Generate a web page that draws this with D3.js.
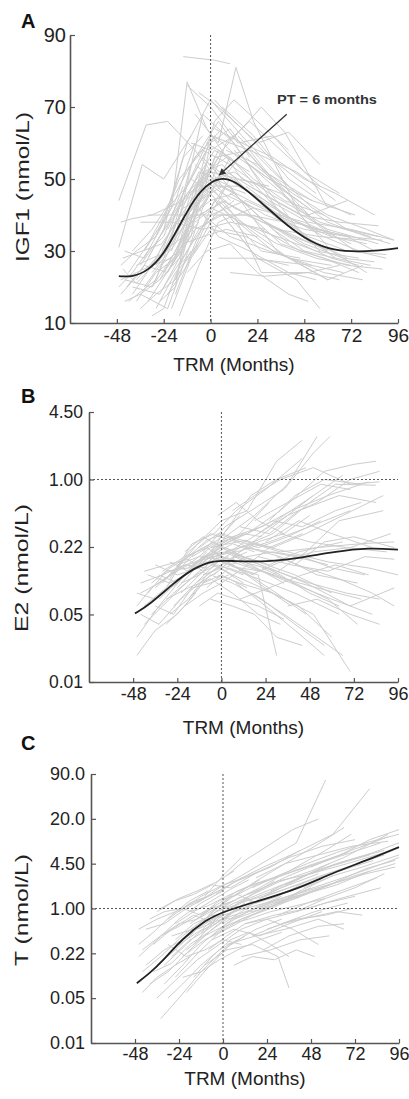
<!DOCTYPE html>
<html>
<head>
<meta charset="utf-8">
<script src="https://cdn.jsdelivr.net/npm/d3@7"></script>
<style>
body { margin: 0; background: #fff; }
svg { display: block; font-family: "Liberation Sans", Arial, sans-serif; }
</style>
</head>
<body>
<svg id="chart" width="409" height="1099"></svg>
<script>
// x axis, months relative to menarche
var monthTicks = [-48, -24, 0, 24, 48, 72, 96];
var monthDomain = [-72, 96];

// panel A : IGF1
var igfTicks = [10, 30, 50, 70, 90];
var igfMeanT = [-47, -40, -32, -24, -16, -8, 0, 6, 12, 24, 36, 48, 60, 72, 84, 96];
var igfMeanV = [23, 22.8, 24.5, 29, 37, 45, 49.3, 50.3, 49.6, 44.5, 38.5, 33.5, 30.5, 29.8, 30, 30.8];
var igfPeak = [6, 50];          // PT = 6 months
var igfArrowFrom = [39, 68];
var igfNote = [34, 70.8];
var igfLines = [
  [[-47,44],[-33,65],[-22,66],[-8,58],[6,48]],
  [[-47,31],[-35,54],[-24,50],[-10,62]],
  [[-46,38],[-40,39],[-30,40],[-14,44],[2,58],[20,52]],
  [[-46,18],[-36,24],[-24,36],[-12,60],[0,72],[16,62],[40,48]],
  [[-44,22],[-30,20],[-18,34],[-4,68],[12,60],[36,40]],
  [[-45,25],[-38,21],[-26,28],[-14,46],[0,62],[20,58],[52,36]],
  [[-42,16],[-28,22],[-16,40],[-6,52],[10,48],[34,30],[60,22]],
  [[-40,20],[-26,18],[-14,30],[-2,55],[14,45],[40,32]],
  [[-38,26],[-22,30],[-10,54],[4,66],[22,52],[48,34],[70,28]],
  [[-36,18],[-22,14],[-14,26],[-4,42],[10,56],[30,44],[56,30]],
  [[-34,30],[-20,42],[-12,77],[-2,64],[16,50],[36,46],[62,34]],
  [[-14,84],[2,83],[10,82]],
  [[-12,76],[0,70],[14,60],[32,62]],
  [[-8,68],[4,60],[13,81],[22,66],[46,40],[62,30]],
  [[-30,24],[-18,32],[-8,44],[6,58],[26,70],[38,63],[60,42]],
  [[-26,28],[-14,38],[-2,48],[12,42],[34,36],[56,34],[80,33]],
  [[-24,20],[-12,30],[0,40],[18,44],[42,38],[70,34],[88,33]],
  [[-22,24],[-10,36],[2,56],[20,58],[44,52],[64,44]],
  [[-20,14],[-10,28],[0,36],[18,34],[40,28],[62,26]],
  [[-18,18],[-8,32],[2,44],[14,38],[32,30],[58,24],[78,22]],
  [[-16,12],[-6,26],[4,38],[22,42],[48,38],[72,32]],
  [[-32,16],[-20,26],[-8,36],[6,40],[24,28],[40,26]],
  [[-28,34],[-16,50],[-4,58],[10,54],[30,46],[56,38],[82,34]],
  [[-10,60],[0,58],[12,62],[28,52],[52,44],[74,40]],
  [[-6,74],[4,70],[16,64],[30,56],[54,46]],
  [[2,72],[12,66],[24,60],[40,63],[56,54]],
  [[0,48],[12,40],[26,24],[50,24],[66,26]],
  [[4,44],[20,36],[40,28],[60,22],[78,26]],
  [[6,40],[24,28],[44,22],[56,14]],
  [[8,52],[26,46],[46,40],[66,38],[86,37]],
  [[10,46],[28,40],[48,36],[70,34],[84,30]],
  [[-4,40],[10,34],[30,30],[52,26],[68,24]],
  [[12,58],[28,50],[50,40],[70,44]],
  [[14,38],[34,34],[54,30],[76,28]],
  [[18,56],[36,48],[54,38],[74,30],[90,28]],
  [[-38,22],[-28,28],[-18,38],[-6,40],[8,44]],
  [[-43,20],[-34,26],[-22,24],[-12,36],[0,46]],
  [[-45,28],[-35,30],[-25,32],[-15,40]],
  [[-40,30],[-30,36],[-18,46],[-8,56],[6,64]],
  [[-36,14],[-28,18],[-18,22],[-10,30]],
  [[-30,12],[-24,14],[-16,26],[-6,32]],
  [[-26,16],[-18,20],[-10,44],[0,50],[10,44]],
  [[-20,30],[-10,46],[0,52],[14,50],[30,48]],
  [[-14,36],[-4,52],[6,54],[20,46],[38,40]],
  [[-12,40],[-2,46],[8,60],[20,66],[40,56],[56,48]],
  [[-8,46],[2,66],[12,72],[24,66],[40,58]],
  [[-4,56],[6,50],[18,58],[34,48],[50,42]],
  [[20,48],[40,42],[60,36],[86,32]],
  [[22,40],[42,34],[62,30],[80,24]],
  [[26,36],[46,30],[70,26],[88,25]],
  [[30,44],[50,38],[72,36],[94,33]],
  [[-46,22],[-38,24],[-30,26],[-20,28]],
  [[-44,16],[-36,18],[-26,22],[-16,32],[-6,38]],
  [[-34,20],[-26,26],[-16,30],[-6,44],[6,48]],
  [[-28,26],[-20,32],[-10,40],[0,44],[12,46]],
  [[-22,36],[-14,44],[-4,50],[6,46],[22,42]],
  [[-18,22],[-8,40],[2,48],[16,48],[32,40],[52,32]],
  [[-16,26],[-6,36],[4,40],[18,40],[36,36],[60,30]],
  [[-2,60],[10,56],[22,50],[38,44],[58,40]],
  [[0,54],[14,48],[28,44],[44,38],[62,34],[80,32]],
  [[-10,50],[2,62],[14,56],[30,50],[52,44]],
  [[16,44],[32,36],[48,30],[64,28]],
  [[-6,42],[4,34],[20,30],[40,24],[54,22]],
  [[-24,24],[-14,32],[-4,34],[8,36],[24,34]],
  [[-20,40],[-10,50],[0,46],[12,38],[26,30],[46,28]],
  [[32,62],[48,52],[66,46]],
  [[-8,38],[6,44],[20,40],[36,32],[58,28],[76,24]],
  [[-12,24],[-2,30],[10,32],[24,24],[40,18],[50,16]],
  [[-47,20],[-40,24],[-32,30],[-24,34],[-14,48]],
  [[-46,26],[-38,30],[-28,34],[-18,44],[-8,60]],
  [[-44,30],[-34,28],[-24,38],[-14,56],[-4,62]],
  [[-42,24],[-32,32],[-22,42],[-12,48],[-2,58]],
  [[-40,18],[-30,26],[-20,36],[-10,44],[0,52]],
  [[-38,16],[-28,24],[-18,28],[-8,48],[2,54]],
  [[-36,26],[-26,34],[-16,42],[-6,48],[4,56]],
  [[-34,24],[-24,30],[-14,34],[-4,46],[6,52]],
  [[-32,28],[-22,38],[-12,46],[-2,52],[8,56]],
  [[-30,20],[-20,28],[-10,38],[0,42],[10,50]],
  [[-28,14],[-18,24],[-8,30],[2,40],[12,44]],
  [[-26,22],[-16,28],[-6,46],[4,58],[14,54]],
  [[-24,30],[-14,42],[-4,44],[6,52],[16,48]],
  [[-22,18],[-12,26],[-2,38],[8,48],[18,46]],
  [[-20,26],[-10,34],[0,60],[10,64],[20,56]],
  [[-18,30],[-8,42],[2,50],[12,52],[22,48]],
  [[-32,40],[-16,40],[0,40],[20,40],[38,38]],
  [[-36,38],[-20,38],[-4,36],[10,38],[28,36]],
  [[4,28],[20,28],[36,27],[52,26]],
  [[10,24],[28,23],[50,24],[66,22]],
  [[2,64],[16,60],[32,56],[48,50],[64,46],[84,40]],
  [[6,70],[22,62],[40,50],[56,44],[72,40]],
  [[8,58],[24,54],[42,46],[60,40],[80,36],[94,33]],
  [[12,50],[30,42],[50,34],[70,30],[90,29]],
  [[14,62],[32,52],[52,42],[70,36],[86,34]],
  [[18,48],[38,40],[58,34],[76,30]],
  [[20,54],[40,46],[60,38],[80,34],[92,32]],
  [[24,44],[44,36],[64,28],[82,26]],
  [[28,38],[48,32],[68,28],[84,27]],
  [[-2,50],[12,46],[28,38],[46,32],[62,28],[76,26]],
  [[0,42],[16,38],[34,32],[54,28],[72,26]],
  [[-8,54],[6,48],[20,44],[36,40],[54,36],[72,34]]
];

// panel B : E2 (log axis)
var e2Ticks = [0.0111, 0.0498, 0.2231, 1, 4.4817];
var e2TickLabels = ["0.01", "0.05", "0.22", "1.00", "4.50"];
var e2MeanT = [-47, -39, -26, -15, -4, 6, 25, 43, 61, 80, 96];
var e2MeanV = [0.051, 0.062, 0.10, 0.14, 0.167, 0.163, 0.16, 0.175, 0.20, 0.22, 0.21];
var e2Lines = [
  [[-46,0.03],[-34,0.06],[-20,0.12],[-8,0.2]],
  [[-46,0.08],[-36,0.07],[-24,0.1],[-12,0.16],[0,0.22]],
  [[-44,0.1],[-32,0.12],[-20,0.15],[-8,0.14],[4,0.18]],
  [[-42,0.06],[-30,0.09],[-18,0.2],[-6,0.3],[8,0.25]],
  [[-40,0.12],[-28,0.1],[-16,0.13],[-4,0.22],[10,0.3],[26,0.6]],
  [[-38,0.05],[-26,0.08],[-14,0.12],[-2,0.15],[12,0.12]],
  [[-36,0.09],[-24,0.14],[-12,0.25],[0,0.4],[14,0.5],[30,1.5],[44,2.4]],
  [[-34,0.07],[-22,0.11],[-10,0.18],[2,0.2],[16,0.15],[34,0.1]],
  [[-32,0.13],[-20,0.18],[-8,0.22],[4,0.16],[20,0.1],[38,0.06]],
  [[-30,0.04],[-20,0.06],[-10,0.1],[0,0.12],[14,0.09]],
  [[-28,0.11],[-16,0.24],[-4,0.3],[8,0.5],[24,0.8],[44,1.6]],
  [[-26,0.06],[-14,0.1],[-2,0.14],[10,0.2],[28,0.35],[50,0.7]],
  [[-24,0.15],[-12,0.18],[0,0.17],[12,0.13],[30,0.08],[46,0.05]],
  [[-22,0.08],[-10,0.13],[2,0.28],[18,0.45],[36,0.9],[52,2.6]],
  [[-20,0.12],[-8,0.17],[4,0.2],[20,0.16],[40,0.12],[60,0.08]],
  [[-18,0.07],[-6,0.12],[6,0.1],[22,0.07],[40,0.04],[56,0.025]],
  [[-16,0.18],[-4,0.24],[8,0.2],[26,0.25],[48,0.35],[70,0.5]],
  [[-14,0.1],[-2,0.16],[10,0.22],[28,0.3],[48,0.6],[62,0.9],[84,0.88]],
  [[-12,0.14],[0,0.25],[14,0.3],[32,0.5],[56,1.2],[72,1.4],[84,1.5]],
  [[-10,0.2],[2,0.35],[16,0.5],[34,0.8],[50,1.8],[59,2.6]],
  [[-8,0.09],[4,0.14],[20,0.11],[40,0.08],[64,0.05]],
  [[-6,0.16],[6,0.12],[22,0.09],[42,0.06],[60,0.03]],
  [[-4,0.25],[8,0.18],[26,0.14],[46,0.1],[70,0.06],[94,0.09]],
  [[-2,0.12],[10,0.1],[28,0.08],[50,0.05],[70,0.014]],
  [[0,0.3],[14,0.25],[32,0.2],[52,0.22],[76,0.24],[94,0.25]],
  [[2,0.2],[18,0.24],[36,0.2],[58,0.16],[80,0.14],[96,0.12]],
  [[4,0.15],[20,0.12],[30,0.02]],
  [[6,0.28],[22,0.35],[38,0.5],[58,0.7],[80,0.95]],
  [[8,0.1],[24,0.06],[40,0.035],[56,0.02]],
  [[10,0.35],[26,0.3],[42,0.5],[64,0.7],[84,0.6]],
  [[12,0.16],[30,0.13],[48,0.1],[68,0.08],[86,0.07]],
  [[14,0.22],[32,0.18],[52,0.12],[74,0.1]],
  [[16,0.08],[34,0.05],[52,0.03],[66,0.02]],
  [[18,0.4],[36,0.6],[54,0.9],[70,0.8]],
  [[20,0.18],[38,0.15],[58,0.13],[78,0.18],[94,0.17]],
  [[24,0.25],[42,0.4],[60,0.3],[82,0.22]],
  [[-44,0.05],[-34,0.04],[-22,0.07],[-12,0.1],[-2,0.13]],
  [[-40,0.08],[-30,0.13],[-18,0.14],[-6,0.2],[6,0.28]],
  [[-36,0.15],[-24,0.12],[-12,0.14],[0,0.2]],
  [[-32,0.1],[-22,0.16],[-12,0.21],[-2,0.26],[10,0.45]],
  [[-28,0.05],[-18,0.07],[-8,0.12],[2,0.16],[14,0.2]],
  [[-24,0.09],[-14,0.14],[-4,0.19],[6,0.24],[18,0.2]],
  [[-20,0.06],[-10,0.08],[0,0.1],[12,0.14],[26,0.22],[44,0.3]],
  [[-16,0.13],[-6,0.2],[4,0.35],[16,0.7],[30,1.0],[46,1.3]],
  [[-12,0.22],[-2,0.3],[8,0.26],[20,0.22],[36,0.28],[54,0.4]],
  [[-8,0.17],[2,0.22],[12,0.18],[26,0.15],[42,0.2],[66,0.25]],
  [[-4,0.12],[6,0.17],[18,0.14],[34,0.11],[52,0.09],[76,0.07]],
  [[0,0.16],[10,0.14],[22,0.13],[38,0.1],[60,0.07],[82,0.05]],
  [[2,0.24],[14,0.3],[28,0.4],[44,0.35],[62,0.5],[76,0.6]],
  [[-30,0.07],[-18,0.09],[-6,0.11],[6,0.08],[20,0.05],[32,0.04]],
  [[-46,0.02],[-36,0.035],[-24,0.05],[-14,0.08]],
  [[-42,0.13],[-30,0.15],[-18,0.17],[-8,0.12]],
  [[28,0.12],[46,0.2],[64,0.4],[88,0.5]],
  [[32,0.3],[48,0.25],[68,0.22],[90,0.2]],
  [[36,0.06],[52,0.07],[70,0.05],[86,0.04]],
  [[40,0.15],[56,0.25],[72,0.28],[94,0.22]],
  [[6,0.5],[18,0.7],[32,1.0],[50,1.3],[70,0.9],[86,0.95]],
  [[-2,0.45],[8,0.6],[20,0.4],[34,0.3]],
  [[10,0.07],[26,0.09],[44,0.12],[62,0.15],[80,0.12]],
  [[-6,0.07],[6,0.06],[18,0.05],[30,0.03],[44,0.025]],
  [[-46,0.06],[-38,0.09],[-28,0.12],[-18,0.15],[-8,0.18]],
  [[-44,0.08],[-34,0.1],[-24,0.13],[-14,0.2],[-4,0.25]],
  [[-42,0.04],[-32,0.06],[-22,0.09],[-12,0.13],[-2,0.18]],
  [[-38,0.1],[-28,0.14],[-18,0.18],[-8,0.26],[2,0.3]],
  [[-34,0.12],[-24,0.1],[-14,0.16],[-4,0.18],[6,0.2]],
  [[-30,0.09],[-20,0.12],[-10,0.15],[0,0.18],[10,0.16]],
  [[-26,0.13],[-16,0.16],[-6,0.22],[4,0.24],[14,0.26]],
  [[-22,0.1],[-12,0.12],[-2,0.17],[8,0.14],[18,0.12]],
  [[-18,0.14],[-8,0.18],[2,0.24],[12,0.3],[22,0.28]],
  [[-14,0.16],[-4,0.2],[6,0.16],[16,0.14],[28,0.12]],
  [[-10,0.12],[0,0.14],[10,0.2],[20,0.25],[34,0.3],[48,0.45]],
  [[-6,0.22],[4,0.28],[14,0.22],[26,0.2],[40,0.18],[58,0.15]],
  [[-2,0.18],[8,0.22],[20,0.3],[34,0.45],[50,0.7],[66,1.1]],
  [[2,0.14],[14,0.18],[28,0.2],[44,0.18],[60,0.14],[78,0.12]],
  [[6,0.2],[18,0.16],[32,0.12],[48,0.08],[64,0.06]],
  [[-28,0.16],[-18,0.13],[-8,0.16],[2,0.13],[12,0.1]],
  [[-36,0.06],[-26,0.05],[-16,0.09],[-6,0.1],[4,0.12]],
  [[-20,0.2],[-10,0.28],[0,0.22],[10,0.18],[22,0.16]],
  [[12,0.26],[28,0.22],[46,0.3],[66,0.45],[88,0.7]],
  [[16,0.12],[32,0.16],[50,0.2],[70,0.22],[92,0.3]],
  [[20,0.3],[36,0.45],[52,0.6],[70,1.0],[86,1.2]],
  [[22,0.14],[40,0.1],[58,0.07],[74,0.04]],
  [[26,0.4],[40,0.7],[56,1.0],[76,0.9]],
  [[30,0.18],[46,0.14],[64,0.11],[82,0.08],[94,0.06]],
  [[-12,0.06],[-2,0.08],[8,0.07],[20,0.06],[34,0.045]]
];

// panel C : T (log axis)
var tTicks = [0.0111, 0.0498, 0.2231, 1, 4.4817, 20.0855, 90.0171];
var tTickLabels = ["0.01", "0.05", "0.22", "1.00", "4.50", "20.0", "90.0"];
var tMeanT = [-47, -40, -34, -22, -9, 0, 24, 42, 60, 78, 96];
var tMeanV = [0.082, 0.115, 0.16, 0.37, 0.69, 0.9, 1.4, 2.0, 3.3, 4.95, 7.8];
var tLines = [
  [[-46,0.2],[-36,0.35],[-24,0.7],[-12,1.2],[0,1.8]],
  [[-44,0.12],[-34,0.2],[-22,0.4],[-10,0.7],[2,1.1]],
  [[-42,0.5],[-32,0.6],[-20,1.0],[-8,1.5],[4,2.2]],
  [[-40,0.08],[-30,0.12],[-18,0.25],[-6,0.5],[6,0.9]],
  [[-38,0.3],[-28,0.5],[-16,0.8],[-4,0.6],[8,1.0]],
  [[-36,0.05],[-26,0.09],[-14,0.18],[-2,0.3],[10,0.5]],
  [[-34,0.025],[-24,0.05],[-12,0.12],[0,0.25],[12,0.4]],
  [[-32,0.15],[-20,0.3],[-8,0.6],[4,1.0],[16,1.6],[28,2.5]],
  [[-30,0.7],[-18,1.2],[-6,1.6],[6,2.4],[20,3.5]],
  [[-28,0.4],[-16,0.5],[-4,0.9],[8,1.4],[22,2.0],[36,3.0]],
  [[-26,0.1],[-14,0.22],[-2,0.45],[10,0.7],[24,1.0],[40,1.5]],
  [[-24,0.9],[-12,1.5],[0,2.2],[12,2.8],[26,4.0],[42,7.0]],
  [[-22,0.2],[-10,0.35],[2,0.5],[16,0.8],[30,1.2],[48,2.0]],
  [[-20,0.06],[-8,0.14],[4,0.3],[18,0.5],[32,0.7]],
  [[-18,0.6],[-6,1.0],[6,1.3],[20,2.0],[36,3.5],[56,7.0],[70,12]],
  [[-16,0.3],[-4,0.7],[8,1.2],[22,1.5],[38,2.4],[58,4.5]],
  [[-14,1.2],[-2,2.0],[10,3.0],[24,5.0],[40,9.0],[56,74]],
  [[-12,0.45],[0,0.8],[12,1.0],[28,1.3],[46,1.8],[64,2.5]],
  [[-10,0.15],[2,0.25],[16,0.3],[30,0.2],[36,0.07]],
  [[-8,0.8],[4,1.4],[18,2.5],[34,4.5],[50,8.0],[66,15]],
  [[-6,0.35],[6,0.5],[20,0.4],[36,0.6],[54,0.9]],
  [[-4,1.6],[8,2.6],[22,4.0],[40,6.5],[60,12],[80,55]],
  [[-2,0.5],[10,0.7],[26,1.0],[44,1.6],[62,2.2],[80,3.5]],
  [[0,1.0],[14,1.5],[30,2.4],[48,3.5],[66,5.5],[90,12]],
  [[2,0.3],[18,0.4],[34,0.5],[52,0.7],[66,0.5]],
  [[4,2.0],[20,3.5],[36,5.5],[54,8.0],[72,10]],
  [[6,0.7],[22,1.0],[40,1.4],[58,2.2],[78,3.8],[94,5.0]],
  [[8,1.2],[24,1.8],[42,2.8],[60,4.2],[80,6.0]],
  [[10,0.2],[26,0.25],[42,0.35],[58,0.4]],
  [[12,0.6],[28,0.8],[46,1.0],[64,1.4],[86,2.0]],
  [[14,1.6],[30,2.5],[48,3.2],[68,4.5],[92,7.0]],
  [[16,0.4],[32,0.6],[50,0.9],[68,1.2]],
  [[18,2.8],[34,4.5],[52,6.0],[70,8.0],[90,9.5]],
  [[20,1.0],[36,1.4],[54,2.0],[72,3.0],[94,4.5]],
  [[24,0.5],[40,0.7],[56,0.8],[70,1.0]],
  [[26,1.8],[44,3.0],[62,4.5],[82,6.5],[96,9]],
  [[30,0.8],[46,1.2],[64,1.8],[84,2.8]],
  [[34,2.2],[50,3.5],[68,5.0],[88,7.0]],
  [[-46,0.3],[-38,0.45],[-28,0.8],[-18,1.3],[-8,1.8]],
  [[-40,0.7],[-32,0.9],[-22,1.0],[-12,0.8],[-2,1.2]],
  [[-36,0.15],[-26,0.25],[-16,0.45],[-6,0.9],[4,1.5]],
  [[-30,0.05],[-22,0.08],[-12,0.15],[-2,0.25],[8,0.35]],
  [[-26,0.35],[-16,0.6],[-6,0.8],[4,0.7],[14,0.9]],
  [[-20,0.45],[-10,0.7],[0,1.2],[10,1.8],[20,2.6]],
  [[-16,0.1],[-6,0.2],[4,0.35],[14,0.45],[26,0.3],[36,0.2]],
  [[-12,0.8],[-2,1.3],[8,1.6],[18,1.2],[30,1.5],[46,2.5]],
  [[-8,0.25],[2,0.4],[12,0.6],[24,0.7],[38,0.5],[52,0.3]],
  [[-4,0.9],[6,1.1],[16,0.9],[28,1.1],[42,1.8],[60,3.0]],
  [[0,0.6],[10,0.9],[22,1.5],[36,2.0],[52,2.8],[70,4.0]],
  [[2,3.0],[12,5.0],[24,8.0],[38,14],[52,20]],
  [[-10,1.5],[0,3.0],[10,5.5]],
  [[6,0.15],[16,0.2],[28,0.18],[40,0.25],[50,0.2]],
  [[44,2.0],[60,3.0],[76,4.0],[96,6.0]],
  [[40,0.9],[56,1.4],[72,2.0],[88,3.2]],
  [[-44,0.06],[-36,0.1],[-26,0.15],[-18,0.2]],
  [[-34,1.0],[-24,1.4],[-14,1.8],[-4,2.4],[6,3.5]],
  [[-22,0.1],[-12,0.12],[-2,0.18],[8,0.25],[20,0.35],[32,0.45]],
  [[16,2.0],[30,3.0],[46,4.5],[62,6.5],[78,9.0],[96,12]],
  [[22,0.25],[36,0.4],[52,0.55],[66,0.6]],
  [[48,4.0],[64,6.0],[80,10],[96,14]],
  [[-46,0.5],[-36,0.7],[-26,0.9],[-16,1.2],[-6,1.6]],
  [[-44,0.25],[-34,0.4],[-24,0.55],[-14,0.8],[-4,1.1]],
  [[-42,0.15],[-32,0.25],[-22,0.35],[-12,0.55],[-2,0.8]],
  [[-38,0.12],[-28,0.16],[-18,0.3],[-8,0.45],[2,0.7]],
  [[-34,0.4],[-24,0.6],[-14,0.7],[-4,1.0],[6,1.3]],
  [[-32,0.08],[-22,0.15],[-12,0.3],[-2,0.5],[8,0.8]],
  [[-28,0.2],[-18,0.35],[-8,0.5],[2,0.8],[12,1.2]],
  [[-24,0.3],[-14,0.45],[-4,0.6],[6,0.9],[16,1.3]],
  [[-20,0.25],[-10,0.4],[0,0.55],[10,0.8],[20,1.1],[32,1.5]],
  [[-18,0.9],[-8,1.1],[2,1.5],[12,2.0],[24,2.6]],
  [[-14,0.5],[-4,0.65],[6,0.8],[18,1.0],[30,1.3],[44,1.6]],
  [[-10,0.6],[0,0.9],[10,1.2],[22,1.6],[36,2.2],[52,3.2]],
  [[-6,0.4],[4,0.6],[14,0.7],[26,0.9],[40,1.1],[56,1.4]],
  [[-2,1.2],[8,1.8],[20,2.4],[34,3.2],[50,4.5],[68,6.5]],
  [[2,0.8],[14,1.1],[28,1.5],[44,2.2],[62,3.4],[82,5.0]],
  [[6,1.5],[18,2.2],[32,3.0],[48,4.2],[66,6.0],[86,9.0]],
  [[10,0.5],[24,0.7],[40,0.9],[56,1.2],[72,1.5]],
  [[14,0.9],[28,1.3],[44,1.8],[62,2.6],[80,3.8],[96,5.5]],
  [[20,1.4],[36,2.0],[52,2.9],[70,4.2],[88,6.0]],
  [[28,1.2],[44,1.6],[60,2.3],[78,3.2],[94,4.0]],
  [[32,0.6],[48,0.75],[62,0.9],[76,0.8]],
  [[36,3.0],[52,4.5],[70,7.0],[90,11]],
  [[-30,0.3],[-20,0.2],[-10,0.25],[0,0.35],[10,0.3]],
  [[-26,0.6],[-16,0.9],[-6,1.3],[4,1.9],[14,2.6]],
  [[-36,0.9],[-26,1.3],[-16,1.6],[-6,2.2],[4,2.0]]
];

var svg = d3.select("#chart");
svg.append("rect").attr("width", 409).attr("height", 1099).attr("fill", "#fff");

svg.append("defs").append("marker")
  .attr("id", "arrow")
  .attr("viewBox", "0 0 10 10")
  .attr("refX", 9).attr("refY", 5)
  .attr("markerWidth", 10).attr("markerHeight", 7)
  .attr("markerUnits", "userSpaceOnUse")
  .attr("orient", "auto")
  .append("path").attr("d", "M0,0L10,5L0,10Z").attr("fill", "#333");

function drawPanel(o) {
  var g = svg.append("g");
  var x = d3.scaleLinear().domain(monthDomain).range([o.left, o.right]);
  var y = o.log ? d3.scaleLog() : d3.scaleLinear();
  y.domain([o.ticks[0], o.ticks[o.ticks.length - 1]]).range([o.bottom, o.top]);

  var line = d3.line()
    .x(function(d) { return x(d[0]); })
    .y(function(d) { return y(d[1]); });

  // individual girls
  g.append("g").selectAll("path")
    .data(o.lines)
    .enter().append("path")
    .attr("d", line)
    .attr("fill", "none")
    .attr("stroke", "#cdcdcd")
    .attr("stroke-width", 1);

  // reference lines
  g.append("line")
    .attr("x1", x(0)).attr("x2", x(0))
    .attr("y1", o.top).attr("y2", o.bottom)
    .attr("stroke", "#555").attr("stroke-width", 1)
    .attr("stroke-dasharray", "2,2");
  if (o.log) {
    g.append("line")
      .attr("x1", o.left).attr("x2", o.right)
      .attr("y1", y(1)).attr("y2", y(1))
      .attr("stroke", "#555").attr("stroke-width", 1)
      .attr("stroke-dasharray", "2,2");
  }

  // mean curve
  var mean = o.meanT.map(function(t, i) { return [t, o.meanV[i]]; });
  g.append("path")
    .attr("d", line.curve(d3.curveBasis)(mean))
    .attr("fill", "none")
    .attr("stroke", "#222")
    .attr("stroke-width", 1.8);

  // axes
  var xAxis = g.append("g")
    .attr("transform", "translate(0," + o.bottom + ")")
    .call(d3.axisBottom(x).tickValues(monthTicks).tickSize(-4).tickSizeOuter(0).tickPadding(o.xPad)
      .tickFormat(function(d) { return String(d); }));
  var yAxis = g.append("g")
    .attr("transform", "translate(" + o.left + ",0)")
    .call(d3.axisLeft(y).tickValues(o.ticks).tickSize(-5).tickSizeOuter(0).tickPadding(o.yPad)
      .tickFormat(function(d, i) { return o.labels[i]; }));
  [xAxis, yAxis].forEach(function(a) {
    a.select(".domain").attr("stroke", "#555").attr("stroke-width", 1.6);
    a.selectAll(".tick line").attr("stroke", "#555").attr("stroke-width", 1.2);
    a.selectAll("text").attr("fill", "#222").attr("font-family", "Liberation Sans, Arial, sans-serif");
  });
  xAxis.selectAll("text").attr("font-size", o.xFont);
  yAxis.selectAll("text").attr("font-size", o.yFont);

  // titles
  g.append("text")
    .attr("x", (o.left + o.right) / 2).attr("y", o.xTitleY)
    .attr("text-anchor", "middle")
    .attr("font-size", 19).attr("fill", "#222")
    .text("TRM (Months)");
  g.append("text")
    .attr("transform", "translate(" + o.yTitleX + "," + o.yTitleCY + ") rotate(-90)")
    .attr("text-anchor", "middle")
    .attr("font-size", 19).attr("fill", "#222")
    .attr("textLength", o.yTitleLen).attr("lengthAdjust", "spacingAndGlyphs")
    .text(o.yTitle);
  g.append("text")
    .attr("x", 21).attr("y", o.letterY)
    .attr("font-size", 20).attr("font-weight", "bold").attr("fill", "#111")
    .text(o.letter);

  return { x: x, y: y, g: g };
}

var a = drawPanel({
  letter: "A", letterY: 28,
  left: 70, right: 398, top: 35, bottom: 323,
  log: false, ticks: igfTicks, labels: igfTicks.map(String),
  lines: igfLines, meanT: igfMeanT, meanV: igfMeanV,
  xPad: 6, yPad: 4, xFont: 19, yFont: 20,
  xTitleY: 371, yTitle: "IGF1 (nmol/L)", yTitleX: 29, yTitleCY: 187, yTitleLen: 150
});
// peak annotation
a.g.append("line")
  .attr("x1", a.x(igfArrowFrom[0])).attr("y1", a.y(igfArrowFrom[1]))
  .attr("x2", a.x(igfPeak[0]) - 3).attr("y2", a.y(igfPeak[1]) - 4)
  .attr("stroke", "#333").attr("stroke-width", 1.3)
  .attr("marker-end", "url(#arrow)");
a.g.append("text")
  .attr("x", a.x(igfNote[0])).attr("y", a.y(igfNote[1]))
  .attr("font-size", 13.5).attr("font-weight", "bold").attr("fill", "#333")
  .attr("textLength", 100).attr("lengthAdjust", "spacingAndGlyphs")
  .text("PT = " + igfPeak[0] + " months");

drawPanel({
  letter: "B", letterY: 403,
  left: 89, right: 398, top: 412, bottom: 682,
  log: true, ticks: e2Ticks, labels: e2TickLabels,
  lines: e2Lines, meanT: e2MeanT, meanV: e2MeanV,
  xPad: 5, yPad: 6, xFont: 18, yFont: 17.5,
  xTitleY: 734, yTitle: "E2 (nmol/L)", yTitleX: 28, yTitleCY: 568, yTitleLen: 128
});

drawPanel({
  letter: "C", letterY: 750,
  left: 91, right: 399, top: 774, bottom: 1043,
  log: true, ticks: tTicks, labels: tTickLabels,
  lines: tLines, meanT: tMeanT, meanV: tMeanV,
  xPad: 4, yPad: 6, xFont: 18, yFont: 18,
  xTitleY: 1085, yTitle: "T (nmol/L)", yTitleX: 28, yTitleCY: 910, yTitleLen: 112
});
</script>
</body>
</html>
